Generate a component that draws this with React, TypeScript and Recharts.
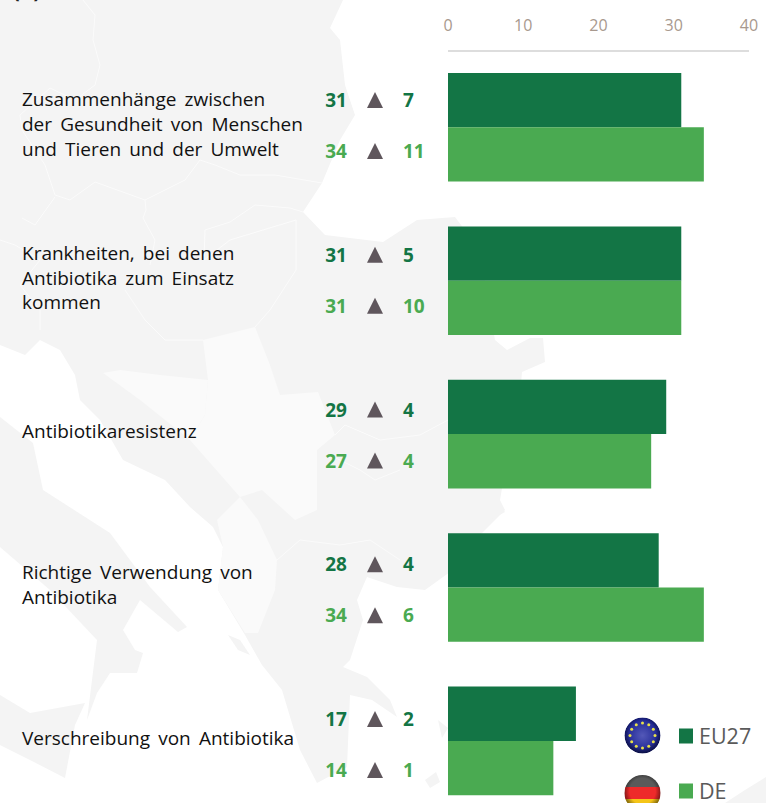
import { Bar, BarChart, LabelList, Legend, XAxis, YAxis } from "recharts";

const categories = [
  "Zusammenhänge zwischen\nder Gesundheit von Menschen\nund Tieren und der Umwelt",
  "Krankheiten, bei denen\nAntibiotika zum Einsatz\nkommen",
  "Antibiotikaresistenz",
  "Richtige Verwendung von\nAntibiotika",
  "Verschreibung von Antibiotika",
];
const eu27 = [31, 31, 29, 28, 17];
const de = [34, 31, 27, 34, 14];
const eu27Change = [7, 5, 4, 4, 2];
const deChange = [11, 10, 4, 6, 1];
const xTicks = [0, 10, 20, 30, 40];

const chartData = categories.map((name, i) => ({
  name,
  eu27: eu27[i],
  de: de[i],
}));

const DARK = "#137545";
const LIGHT = "#4aaa51";
const FONT = "'Open Sans', sans-serif";

const LAND = "#f4f4f4";
const LAND_LIGHT = "#fafafa";

// the number columns sit on their own grid, slightly wider than the bars
const ROW_START = 100;
const ROW_STEP = 154.75;

function MapBackground() {
  return (
    <svg width={766} height={803} style={{ position: "absolute", left: 0, top: 0 }}>
      <path
        fill={LAND}
        d="M0,0 L343,0 L330,28 L340,40 L345,85 L355,115 L340,140 L322,183 L303,212 L325,235 L383,242 L417,220 L455,217 L480,250 L495,340 L507,350 L530,338 L543,338 L545,362 L522,372 L520,395 L510,440 L500,500 L505,510 L480,535 L450,572 L425,590 L397,587 L367,577 L357,600 L363,620 L350,660 L343,667 L367,677 L390,700 L397,717 L372,700 L350,695 L347,767 L317,783 L300,750 L282,690 L262,665 L245,635 L218,590 L223,547 L213,527 L190,507 L165,480 L123,460 L100,420 L80,400 L75,375 L60,350 L40,340 L25,355 L0,345 Z"
      />
      <path
        fill={LAND}
        d="M0,417 L33,443 L43,490 L110,533 L150,587 L187,627 L178,632 L140,600 L123,630 L135,650 L143,653 L137,673 L110,673 L97,693 L87,720 L97,640 L50,590 L0,547 Z"
      />
      <path fill={LAND} d="M0,695 L30,713 L85,703 L75,725 L65,778 L30,760 L0,745 Z" />
      <path fill={LAND} d="M766,777 L745,790 L725,803 L766,803 Z" />
      <path fill={LAND} d="M478,500 L500,505 L505,512 L490,520 Z" />
      <path fill={LAND} d="M448,562 L462,566 L470,580 L452,578 Z" />
      <path fill={LAND} d="M228,635 L240,640 L250,655 L238,650 Z" />
      <path fill={LAND} d="M438,720 L448,728 L442,738 Z" />
      <path fill={LAND} d="M425,780 L436,772 L440,782 L430,788 Z" />

      <path
        fill={LAND_LIGHT}
        d="M203,340 L255,327 L270,365 L280,395 L318,392 L335,435 L317,450 L317,510 L295,520 L262,490 L240,497 L190,440 L205,415 L208,380 Z"
      />
      <path fill={LAND_LIGHT} d="M103,373 L120,370 L160,375 L208,380 L205,415 L190,440 L140,400 Z" />
      <path fill={LAND_LIGHT} d="M217,520 L240,497 L258,520 L277,560 L275,590 L258,633 L245,633 L218,590 L223,547 Z" />

      <g fill="none" stroke="#fbfbfb" strokeWidth={1}>
        <path d="M83,0 L95,15 L93,40 L100,65 L95,85 L75,100 L50,88 L20,115 L22,130 L45,165 L55,195 L70,200 L95,182 L145,200 L146,210 L143,218 L155,240 L150,265" />
        <path d="M145,200 L185,180 L200,160 L215,165 L240,175 L275,175 L322,183" />
        <path d="M205,230 L230,222 L255,205 L290,208 L303,212" />
        <path d="M205,230 L204,260 L230,240 L296,220 L296,270 L270,310 L255,327" />
        <path d="M22,218 L35,225 L55,197" />
        <path d="M0,240 L15,245 L40,260 L20,285 L40,310 L40,330" />
        <path d="M125,290 L145,320 L165,340 L203,340" />
        <path d="M335,435 L345,425 L380,440 L420,435 L448,420" />
        <path d="M330,455 L360,470 L375,480 L400,470" />
        <path d="M277,560 L300,540 L340,545 L370,540 L400,560" />
      </g>
    </svg>
  );
}

function CategoryTick({ y, payload }: any) {
  const lines = String(payload.value).split("\n");
  const top = y - 3.5 - ((lines.length - 1) * 24.8) / 2;
  return (
    <text
      x={22}
      y={top}
      fontFamily={FONT}
      fontSize={19}
      fill="#111111"
      wordSpacing={3.2}
      dominantBaseline="central"
    >
      {lines.map((line, i) => (
        <tspan key={line} x={22} y={top + i * 24.8}>
          {line}
        </tspan>
      ))}
    </text>
  );
}

function RowLabel({ value, index, color, changes, offset }: any) {
  const cy = ROW_START + index * ROW_STEP + offset;
  const tx = 375;
  return (
    <g>
      <text
        x={336}
        y={cy}
        textAnchor="middle"
        dominantBaseline="central"
        fontFamily={FONT}
        fontWeight={700}
        fontSize={19}
        fill={color}
      >
        {value}
      </text>
      <path d={`M${tx},${cy - 8} L${tx + 8},${cy + 8} L${tx - 8},${cy + 8} Z`} fill="#5f565c" />
      <text
        x={403}
        y={cy}
        dominantBaseline="central"
        fontFamily={FONT}
        fontWeight={700}
        fontSize={19}
        fill={color}
      >
        {changes[index]}
      </text>
    </g>
  );
}

function Flag({ id, cy, kind }: { id: string; cy: number; kind: "eu" | "de" }) {
  const cx = 642.5;
  const r = 18;
  return (
    <g>
      <defs>
        <clipPath id={`${id}-clip`}>
          <circle cx={cx} cy={cy} r={r} />
        </clipPath>
        <radialGradient id={`${id}-shade`} cx="50%" cy="45%" r="55%">
          <stop offset="0.65" stopColor="#000" stopOpacity={0} />
          <stop offset="1" stopColor="#000" stopOpacity={0.55} />
        </radialGradient>
        <radialGradient id={`${id}-blue`} cx="50%" cy="50%" r="50%">
          <stop offset="0" stopColor="#5358b8" />
          <stop offset="1" stopColor="#1a2290" />
        </radialGradient>
      </defs>
      <g clipPath={`url(#${id}-clip)`}>
        {kind === "eu" ? (
          <circle cx={cx} cy={cy} r={r} fill={`url(#${id}-blue)`} />
        ) : (
          <>
            <rect x={cx - r} y={cy - r} width={r * 2} height={r * 2} fill="#5a5a5a" />
            <rect x={cx - r} y={cy - 6} width={r * 2} height={12} fill="#ee2a2a" />
            <rect x={cx - r} y={cy + 6} width={r * 2} height={12} fill="#f5c518" />
          </>
        )}
        <circle cx={cx} cy={cy} r={r} fill={`url(#${id}-shade)`} />
      </g>
      {kind === "eu"
        ? Array.from({ length: 12 }, (_, i) => {
            const a = (i * Math.PI) / 6;
            return (
              <circle
                key={i}
                cx={cx + 12.5 * Math.sin(a)}
                cy={cy - 12.5 * Math.cos(a)}
                r={1.5}
                fill="#e8e04a"
              />
            );
          })
        : null}
    </g>
  );
}

function LegendBlock({ payload }: any) {
  const rows = [
    { key: "eu27", flagY: 735.5, y: 735.5, kind: "eu" as const },
    { key: "de", flagY: 793, y: 790.5, kind: "de" as const },
  ];
  return (
    <svg width={766} height={803} style={{ position: "absolute", left: 0, top: 0 }}>
      {rows.map((row) => {
        const item = payload?.find((p: any) => p.dataKey === row.key);
        return (
          <g key={row.key}>
            <Flag id={row.key} cy={row.flagY} kind={row.kind} />
            <rect x={679} y={row.y - 7} width={14} height={15} fill={item?.color} />
            <text
              x={699}
              y={row.y}
              dominantBaseline="central"
              fontFamily={FONT}
              fontSize={21.5}
              fill="#5a5a5a"
            >
              {item?.value}
            </text>
          </g>
        );
      })}
    </svg>
  );
}

export default function App() {
  return (
    <div
      style={{
        position: "absolute",
        left: 0,
        top: 0,
        width: 766,
        height: 803,
        overflow: "hidden",
        background: "#ffffff",
      }}
    >
      <MapBackground />
      <svg width={766} height={20} style={{ position: "absolute", left: 0, top: 0 }}>
        <text x={13} y={-2} fontFamily={FONT} fontWeight={700} fontSize={20} fill="#222222">
          (A)
        </text>
      </svg>
      <div style={{ position: "absolute", left: 0, top: 0 }}>
        <BarChart
          width={766}
          height={830}
          data={chartData}
          layout="vertical"
          barSize={54.3}
          barGap={0}
          margin={{ top: 0, right: 17, bottom: 12, left: 0 }}
        >
          <XAxis
            type="number"
            orientation="top"
            domain={[0, 40]}
            ticks={xTicks}
            interval={0}
            height={51}
            tickLine={false}
            tickMargin={14}
            axisLine={{ stroke: "#dddddd", strokeWidth: 2 }}
            tick={{ fill: "#a8998e", fontSize: 16, fontFamily: FONT }}
          />
          <YAxis
            type="category"
            dataKey="name"
            width={448}
            axisLine={false}
            tickLine={false}
            interval={0}
            tick={<CategoryTick />}
          />
          <Legend
            content={<LegendBlock />}
            wrapperStyle={{ position: "absolute", left: 0, top: 0, width: 0, height: 0 }}
          />
          <Bar dataKey="eu27" name="EU27" fill={DARK} isAnimationActive={false}>
            <LabelList
              dataKey="eu27"
              content={(props: any) => (
                <RowLabel {...props} color={DARK} changes={eu27Change} offset={0} />
              )}
            />
          </Bar>
          <Bar dataKey="de" name="DE" fill={LIGHT} isAnimationActive={false}>
            <LabelList
              dataKey="de"
              content={(props: any) => (
                <RowLabel {...props} color={LIGHT} changes={deChange} offset={51} />
              )}
            />
          </Bar>
        </BarChart>
      </div>
    </div>
  );
}
